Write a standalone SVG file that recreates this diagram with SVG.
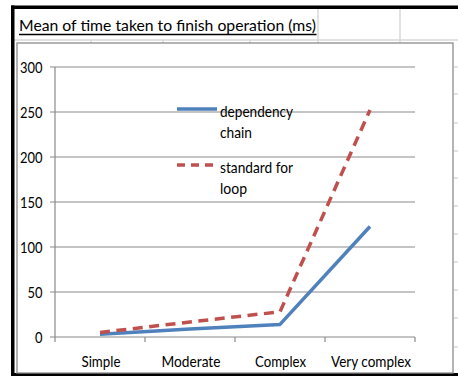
<svg xmlns="http://www.w3.org/2000/svg" width="458" height="376" viewBox="0 0 458 376">
<style>
text{font-family:Lato,"Liberation Sans",sans-serif;fill:#000;}
.lbl{font-size:15px;}
.ylbl{font-size:15px;text-anchor:end;}
.xlbl{font-size:15px;text-anchor:middle;}
.grid{stroke:#8a8a8a;stroke-width:1.2;fill:none;}
.axis{stroke:#8a8a8a;stroke-width:1.2;fill:none;}
.cell{stroke:#d9d9d9;stroke-width:1.5;fill:none;}
.blue{stroke:#4F81BD;stroke-width:3.5;fill:none;stroke-linejoin:round;}
.red{stroke:#C0504D;stroke-width:3.5;fill:none;stroke-dasharray:10 6.5;stroke-linejoin:round;}
</style>
<rect x="0" y="0" width="458" height="376" fill="#fff"/>
<g id="sheet">
  <line class="cell" x1="14" y1="40" x2="458" y2="40"/>
  <line class="cell" x1="318" y1="9" x2="318" y2="43"/>
  <line class="cell" x1="400" y1="9" x2="400" y2="43"/>
  <line class="cell" x1="91" y1="40" x2="91" y2="43"/>
  <line class="cell" x1="163" y1="40" x2="163" y2="43"/>
  <line class="cell" x1="250" y1="40" x2="250" y2="43"/>
  <g stroke="#d9d9d9" stroke-width="1.5">
    <line x1="454" y1="67" x2="458" y2="67"/>
    <line x1="454" y1="94" x2="458" y2="94"/>
    <line x1="454" y1="123" x2="458" y2="123"/>
    <line x1="454" y1="151" x2="458" y2="151"/>
    <line x1="454" y1="178" x2="458" y2="178"/>
    <line x1="454" y1="206" x2="458" y2="206"/>
    <line x1="454" y1="234" x2="458" y2="234"/>
    <line x1="454" y1="262" x2="458" y2="262"/>
    <line x1="454" y1="290" x2="458" y2="290"/>
    <line x1="454" y1="318" x2="458" y2="318"/>
    <line x1="454" y1="347" x2="458" y2="347"/>
  </g>
  <rect x="11" y="5.5" width="447" height="3.5" fill="#000"/>
  <rect x="11" y="5.5" width="3.5" height="370.5" fill="#000"/>
  <rect x="11" y="373" width="447" height="3" fill="#000"/>
</g>
<g id="title">
  <text x="19" y="31" font-size="16" textLength="297" lengthAdjust="spacingAndGlyphs">Mean of time taken to finish operation (ms)</text>
  <line x1="19" y1="34.5" x2="316.5" y2="34.5" stroke="#000" stroke-width="1.3"/>
</g>
<g id="chart-area">
  <rect x="17" y="43" width="436" height="330" fill="#fff" stroke="#8c8c8c" stroke-width="1.3"/>
</g>
<g id="gridlines">
  <line class="grid" x1="50" y1="67" x2="415" y2="67"/>
  <line class="grid" x1="50" y1="112" x2="415" y2="112"/>
  <line class="grid" x1="50" y1="157" x2="415" y2="157"/>
  <line class="grid" x1="50" y1="202" x2="415" y2="202"/>
  <line class="grid" x1="50" y1="247" x2="415" y2="247"/>
  <line class="grid" x1="50" y1="292" x2="415" y2="292"/>
</g>
<g id="axes">
  <line class="axis" x1="55" y1="67" x2="55" y2="342"/>
  <line class="axis" x1="50" y1="337" x2="415" y2="337"/>
  <line class="axis" x1="145" y1="337" x2="145" y2="342"/>
  <line class="axis" x1="235" y1="337" x2="235" y2="342"/>
  <line class="axis" x1="325" y1="337" x2="325" y2="342"/>
  <line class="axis" x1="415" y1="337" x2="415" y2="342"/>
  <text class="ylbl" x="42.5" y="73" textLength="22.5" lengthAdjust="spacingAndGlyphs">300</text>
  <text class="ylbl" x="42.5" y="118" textLength="22.5" lengthAdjust="spacingAndGlyphs">250</text>
  <text class="ylbl" x="42.5" y="163" textLength="22.5" lengthAdjust="spacingAndGlyphs">200</text>
  <text class="ylbl" x="42.5" y="208" textLength="22.5" lengthAdjust="spacingAndGlyphs">150</text>
  <text class="ylbl" x="42.5" y="253" textLength="22.5" lengthAdjust="spacingAndGlyphs">100</text>
  <text class="ylbl" x="42.5" y="298" textLength="15" lengthAdjust="spacingAndGlyphs">50</text>
  <text class="ylbl" x="42.5" y="343" textLength="7.5" lengthAdjust="spacingAndGlyphs">0</text>
  <text class="xlbl" x="101" y="366.5" textLength="39" lengthAdjust="spacingAndGlyphs">Simple</text>
  <text class="xlbl" x="191" y="366.5" textLength="59" lengthAdjust="spacingAndGlyphs">Moderate</text>
  <text class="xlbl" x="280.5" y="366.5" textLength="51" lengthAdjust="spacingAndGlyphs">Complex</text>
  <text class="xlbl" x="371" y="366.5" textLength="80" lengthAdjust="spacingAndGlyphs">Very complex</text>
</g>
<g id="series">
  <polyline id="dependency-chain" class="blue" points="100,334.3 190,328.9 280,324.4 370,226.5"/>
  <polyline id="standard-for-loop" class="red" points="100,332.5 190,322 280,311.8 370,110"/>
</g>
<g id="legend">
  <line x1="177" y1="109" x2="217" y2="109" stroke="#4F81BD" stroke-width="3.5"/>
  <text class="lbl" x="220" y="117" textLength="73" lengthAdjust="spacingAndGlyphs">dependency</text>
  <text class="lbl" x="220" y="138" textLength="32" lengthAdjust="spacingAndGlyphs">chain</text>
  <line x1="177" y1="165" x2="217" y2="165" stroke="#C0504D" stroke-width="3.5" stroke-dasharray="8 6"/>
  <text class="lbl" x="220" y="172.5" textLength="73" lengthAdjust="spacingAndGlyphs">standard for</text>
  <text class="lbl" x="220" y="193.5" textLength="27" lengthAdjust="spacingAndGlyphs">loop</text>
</g>
</svg>
